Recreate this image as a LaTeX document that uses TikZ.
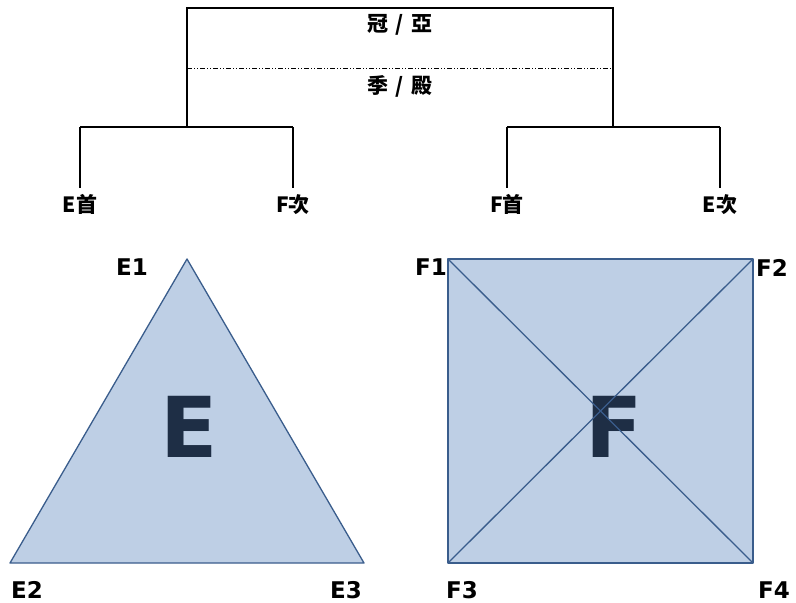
\documentclass[tikz,border=0pt]{standalone}
\usepackage{fontspec}
\setmainfont{DejaVu Sans}
\newfontfamily\cjk{Noto Sans CJK TC}
\usetikzlibrary{positioning}
\definecolor{shapefill}{RGB}{190,207,229}
\definecolor{shapeline}{RGB}{58,93,140}
\definecolor{bigletter}{RGB}{30,46,69}
\tikzset{
  tree line/.style={draw=black,line width=1.2pt},
  rank sep/.style={draw=black,line width=0.9pt,
    dash pattern=on 5pt off 2pt on 1pt off 2pt on 1pt off 2pt},
  rank label/.style={font=\cjk\bfseries\fontsize{21}{21}\selectfont,
    inner sep=0pt,anchor=base},
  leaf/.style={font=\cjk\bfseries\fontsize{21}{21}\selectfont,
    inner sep=0pt,anchor=base,text height=24pt},
  shape body/.style={fill=shapefill,draw=shapeline,line width=1.3pt,line join=round},
  shape cross/.style={draw=shapeline,line width=1.3pt},
  corner label/.style={font=\bfseries\fontsize{23}{23}\selectfont,inner sep=0pt},
  big letter/.style={font=\bfseries\fontsize{84}{84}\selectfont,
    text=bigletter,inner sep=0pt}
}
\begin{document}
\begin{tikzpicture}[x=1pt,y=-1pt]
  \useasboundingbox (0,0) rectangle (796,603);

  % ranking bracket
  \coordinate (boxL) at (187,127);
  \coordinate (boxR) at (613,127);
  \coordinate (boxTop) at (400,8);
  \coordinate (sepL) at (187,68);
  \coordinate (sepR) at (613,68);
  \draw[tree line] (boxL) |- (boxTop) -| (boxR);
  \draw[rank sep] (sepL) -- (sepR);
  \node[rank label] (final) at (400,31) {冠\hspace{7pt}/\hspace{7pt}亞};
  \node[rank label] (third) at (400,93) {季\hspace{7pt}/\hspace{7pt}殿};

  % group branches
  \coordinate (lsplitL) at (80,127);
  \coordinate (lsplitR) at (293,127);
  \coordinate (rsplitL) at (507,127);
  \coordinate (rsplitR) at (720,127);
  \draw[tree line] (lsplitL) -- (lsplitR);
  \draw[tree line] (rsplitL) -- (rsplitR);
  \node[leaf] (eFirst) at (80,212) {E首};
  \node[leaf] (fSecond) at (293,212) {F次};
  \node[leaf] (fFirst) at (507,212) {F首};
  \node[leaf] (eSecond) at (720,212) {E次};
  \draw[tree line] (lsplitL) -- (eFirst.north);
  \draw[tree line] (lsplitR) -- (fSecond.north);
  \draw[tree line] (rsplitL) -- (fFirst.north);
  \draw[tree line] (rsplitR) -- (eSecond.north);

  % group E
  \coordinate (e1) at (187,259);
  \coordinate (e2) at (10,563);
  \coordinate (e3) at (364,563);
  \draw[shape body] (e1) -- (e2) -- (e3) -- cycle;
  \node[big letter] (groupE) at (189,427) {E};
  \node[corner label] (labE1) at (132,267) {E1};
  \node[corner label] (labE2) at (27,590) {E2};
  \node[corner label] (labE3) at (346,590) {E3};

  % group F
  \coordinate (f1) at (448,259);
  \coordinate (f2) at (753,259);
  \coordinate (f3) at (448,563);
  \coordinate (f4) at (753,563);
  \draw[shape body] (f1) rectangle (f4);
  \node[big letter] (groupF) at (614,427) {F};
  \draw[shape cross] (f1) -- (f4);
  \draw[shape cross] (f2) -- (f3);
  \node[corner label] (labF1) at (431,267) {F1};
  \node[corner label] (labF2) at (772,268) {F2};
  \node[corner label] (labF3) at (462,590) {F3};
  \node[corner label] (labF4) at (774,590) {F4};
\end{tikzpicture}
\end{document}
